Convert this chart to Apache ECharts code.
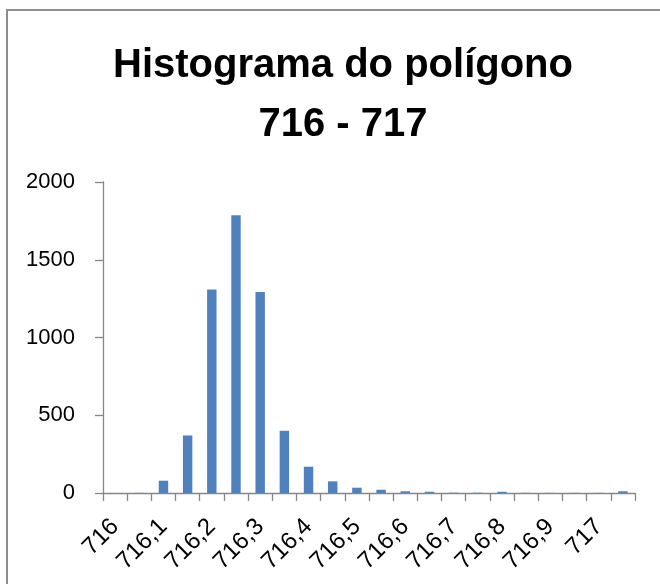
<!DOCTYPE html>
<html>
<head>
<meta charset="utf-8">
<script src="https://cdn.jsdelivr.net/npm/echarts@6/dist/echarts.min.js"></script>
<style>
  html, body { margin: 0; padding: 0; background: #ffffff; }
  #chart { width: 660px; height: 584px; }
</style>
</head>
<body>
<div id="chart"></div>
<script>
// Histogram bins (lower edges, 0,05 apart) and counts per bin
const binLabels = [
  '716', '716,05', '716,1', '716,15', '716,2', '716,25', '716,3', '716,35',
  '716,4', '716,45', '716,5', '716,55', '716,6', '716,65', '716,7', '716,75',
  '716,8', '716,85', '716,9', '716,95', '717', '717,05'
];
const counts = [
  0, 1, 79, 370, 1309, 1786, 1292, 400,
  169, 75, 34, 21, 11, 8, 2, 2,
  8, 1, 1, 1, 1, 11
];
const titleLines = ['Histograma do polígono', '716 - 717'];
const yTicks = { min: 0, max: 2000, interval: 500 };

const FONT = '"Liberation Sans", Arial, sans-serif';
const AXIS_GRAY = '#868686';

const chart = echarts.init(document.getElementById('chart'), null, { renderer: 'canvas' });

chart.setOption({
  backgroundColor: '#ffffff',
  animation: false,
  title: {
    text: titleLines.join('\n'),
    left: 338,
    textAlign: 'center',
    top: 31,
    textStyle: {
      fontFamily: FONT,
      fontWeight: 'bold',
      fontSize: 40,
      lineHeight: 59,
      color: '#000000'
    }
  },
  graphic: [{
    type: 'rect',
    shape: { x: 7, y: 10, width: 700, height: 640 },
    style: { fill: 'none', stroke: '#8e8e8e', lineWidth: 2 },
    silent: true
  }],
  grid: { left: 103, right: 25, top: 182, bottom: 91, containLabel: false },
  xAxis: {
    type: 'category',
    data: binLabels,
    boundaryGap: true,
    axisLine: { lineStyle: { color: AXIS_GRAY, width: 1.3 } },
    axisTick: { show: true, interval: 0, length: 8, lineStyle: { color: AXIS_GRAY, width: 1.3 } },
    axisLabel: {
      interval: 1,
      rotate: 45,
      margin: 30,
      fontFamily: FONT,
      fontSize: 24,
      color: '#000000'
    },
    splitLine: { show: false }
  },
  yAxis: {
    type: 'value',
    min: yTicks.min,
    max: yTicks.max,
    interval: yTicks.interval,
    axisLine: { show: true, lineStyle: { color: AXIS_GRAY, width: 1.3 } },
    axisTick: { show: true, length: 8, lineStyle: { color: AXIS_GRAY, width: 1.3 } },
    axisLabel: {
      margin: 28,
      fontFamily: FONT,
      fontSize: 22,
      color: '#000000',
      formatter: (v) => String(v)
    },
    splitLine: { show: false }
  },
  series: [{
    type: 'bar',
    data: counts,
    barWidth: '39%',
    itemStyle: { color: '#4F81BD' }
  }]
});
</script>
</body>
</html>
